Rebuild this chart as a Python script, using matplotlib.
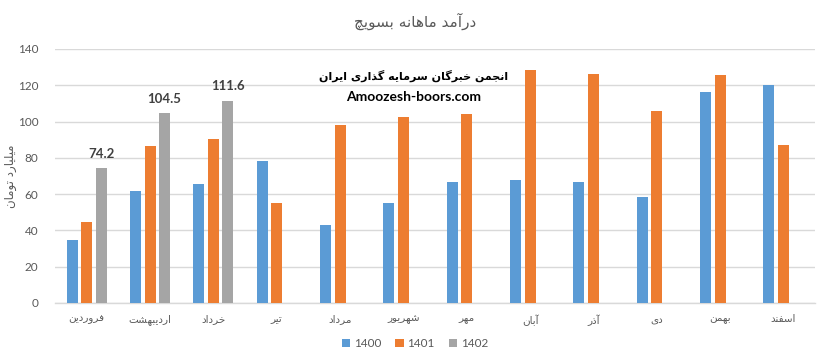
import numpy as np
import matplotlib.pyplot as plt

# Persian text has to be shaped by hand: matplotlib 3.10 has no bidi / joining support.
# forms: (isolated, final, initial, medial); two-form letters only join to the previous one
FORMS = {
    "ا": (0xFE8D, 0xFE8E), "آ": (0xFE81, 0xFE82),
    "د": (0xFEA9, 0xFEAA), "ذ": (0xFEAB, 0xFEAC),
    "ر": (0xFEAD, 0xFEAE), "و": (0xFEED, 0xFEEE),
    "ب": (0xFE8F, 0xFE90, 0xFE91, 0xFE92), "ت": (0xFE95, 0xFE96, 0xFE97, 0xFE98),
    "ج": (0xFE9D, 0xFE9E, 0xFE9F, 0xFEA0), "چ": (0xFB7A, 0xFB7B, 0xFB7C, 0xFB7D),
    "خ": (0xFEA5, 0xFEA6, 0xFEA7, 0xFEA8), "س": (0xFEB1, 0xFEB2, 0xFEB3, 0xFEB4),
    "ش": (0xFEB5, 0xFEB6, 0xFEB7, 0xFEB8), "ف": (0xFED1, 0xFED2, 0xFED3, 0xFED4),
    "گ": (0xFB92, 0xFB93, 0xFB94, 0xFB95), "ل": (0xFEDD, 0xFEDE, 0xFEDF, 0xFEE0),
    "م": (0xFEE1, 0xFEE2, 0xFEE3, 0xFEE4), "ن": (0xFEE5, 0xFEE6, 0xFEE7, 0xFEE8),
    "ه": (0xFEE9, 0xFEEA, 0xFEEB, 0xFEEC), "ی": (0xFBFC, 0xFBFD, 0xFBFE, 0xFBFF),
}


def fa(text):
    out = []
    for i, ch in enumerate(text):
        if ch not in FORMS:
            out.append(ch)
            continue
        prev = text[i - 1] if i > 0 else ""
        nxt = text[i + 1] if i + 1 < len(text) else ""
        f = FORMS[ch]
        join_prev = prev in FORMS and len(FORMS[prev]) == 4
        join_next = len(f) == 4 and nxt in FORMS
        if join_prev and join_next:
            code = f[3]
        elif join_prev:
            code = f[1]
        elif join_next:
            code = f[2]
        else:
            code = f[0]
        out.append(chr(code))
    return "".join(out)[::-1]


# ---- data ----
months = ["فروردین", "اردیبهشت", "خرداد", "تیر", "مرداد", "شهریور",
          "مهر", "آبان", "آذر", "دی", "بهمن", "اسفند"]
series_names = ["1400", "1401", "1402"]
v1400 = [34.8, 61.8, 65.7, 78.4, 43.0, 55.2, 66.8, 67.9, 66.8, 58.5, 116.4, 120.3]
v1401 = [44.7, 86.8, 90.6, 55.2, 98.2, 102.6, 104.3, 128.6, 126.4, 106.0, 125.8, 87.2]
v1402 = [74.2, 104.5, 111.6]
yticks = [0, 20, 40, 60, 80, 100, 120, 140]

title = "درآمد ماهانه بسویچ"
ylabel = "میلیارد تومان"
watermark = "انجمن خبرگان سرمایه گذاری ایران"
site = "Amoozesh-boors.com"

colors = ["#5B9BD5", "#ED7D31", "#A5A5A5"]
text_gray = "#595959"
FONT = ["Lato", "DejaVu Sans"]
plt.rcParams["font.family"] = FONT

fig = plt.figure(figsize=(8.3, 3.55), dpi=100)
ax = fig.add_axes([0.0663, 0.1465, 0.9157, 0.7155])

x = np.arange(len(months))
step = 0.229
width = 0.174
all_series = [v1400, v1401, v1402]
for k, (vals, name) in enumerate(zip(all_series, series_names)):
    xs = x[:len(vals)] + (k - 1) * step
    bars = ax.bar(xs, vals, width=width, color=colors[k], label=name, zorder=3)
    if k == 2:
        ax.bar_label(bars, labels=[f"{v:.1f}" for v in vals], padding=6,
                     fontsize=9.5, fontweight="bold", color="#404040")

ax.set_xlim(-0.5, len(months) - 0.5)
ax.set_ylim(0, 140)
ax.set_yticks(yticks)
ax.set_xticks(x)
ax.set_xticklabels([fa(m) for m in months], family="DejaVu Sans", fontsize=7.5,
                   color=text_gray)
ax.tick_params(axis="x", length=0, pad=8)
ax.tick_params(axis="y", length=0, pad=12, labelsize=8.5, labelcolor=text_gray)
ax.grid(axis="y", color="#D9D9D9", linewidth=1, zorder=0)
for side in ["top", "right", "left"]:
    ax.spines[side].set_visible(False)
ax.spines["bottom"].set_color("#D9D9D9")
ax.spines["bottom"].set_linewidth(1)

ax.set_ylabel(fa(ylabel), family="DejaVu Sans", fontsize=8.5, color=text_gray)
ax.yaxis.set_label_coords(-0.05, 0.5)

fig.text(0.5, 0.94, fa(title), ha="center", va="center", family="DejaVu Sans",
         fontsize=11, color=text_gray)
ax.text(0.472, 0.894, fa(watermark), transform=ax.transAxes, ha="center",
        va="center", family="DejaVu Sans", fontsize=8, fontweight="bold",
        color="black")
ax.text(0.472, 0.811, site, transform=ax.transAxes, ha="center", va="center",
        fontsize=10, fontweight="bold", color="black")

leg = fig.legend(loc="center", bbox_to_anchor=(0.5, 0.033), ncol=3, frameon=False,
                 fontsize=8.5, handlelength=0.7, handleheight=0.7,
                 handletextpad=0.3, columnspacing=1.2)
for t in leg.get_texts():
    t.set_color(text_gray)

fig.savefig("out.png", dpi=100)
